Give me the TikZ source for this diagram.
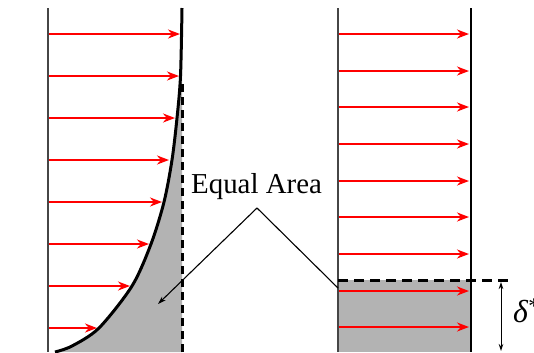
\documentclass[tikz,border=0pt]{standalone}
\usepackage{fontspec}
\setmainfont{Liberation Serif}
\usetikzlibrary{arrows.meta}
\definecolor{areagray}{RGB}{179,179,179}
\definecolor{wallgray}{RGB}{70,70,70}
\tikzset{
  thinwall/.style={draw=wallgray, line width=1.8bp},
  thickwall/.style={draw=black, line width=2.8bp},
  profile/.style={draw=black, line width=3bp},
  flow/.style={draw=red, line width=2.6bp, -{Stealth[length=12bp,width=9bp]}},
  vdash/.style={draw=black, line width=3bp, dash pattern=on 8bp off 5bp},
  hdash/.style={draw=black, line width=3bp, dash pattern=on 10bp off 6bp},
  callout/.style={draw=black, line width=1.1bp},
  dimline/.style={draw=black, line width=0.9bp, {Stealth[length=7bp,width=4.5bp]}-{Stealth[length=7bp,width=4.5bp]}},
}
\begin{document}
\begin{tikzpicture}[x=1bp,y=-1bp]
\useasboundingbox (0,0) rectangle (534,352);
% ---------- left panel ----------
\fill[areagray] plot[smooth] coordinates {(55,352) (72,346) (99,328) (132,286) (151,244) (164,202) (172,160) (177,118) (180.5,76) (182,8)} -- (182,352) -- cycle;
\foreach \y/\t in {34/180,76/179,118/175,160/169,202/162,244/149,286/130,328/97}{
  \coordinate (ls\y) at (48,\y);
  \coordinate (le\y) at (\t,\y);
  \draw[flow] (ls\y) -- (le\y);
}
\coordinate (lwt) at (48,8);
\coordinate (lwb) at (48,352);
\draw[thinwall] (lwt) -- (lwb);
\draw[profile] plot[smooth] coordinates {(55,352) (72,346) (99,328) (132,286) (151,244) (164,202) (172,160) (177,118) (180.5,76) (182,8)};
\coordinate (dvt) at (182,82);
\coordinate (dvb) at (182,352);
\draw[vdash] (dvb) -- (dvt);
% ---------- right panel ----------
\fill[areagray] (338,280) rectangle (471,352);
\foreach \y in {34,71,107,144,181,217,254,291,327}{
  \coordinate (rs\y) at (339,\y);
  \coordinate (re\y) at (469,\y);
  \draw[flow] (rs\y) -- (re\y);
}
\coordinate (rlt) at (338,8);
\coordinate (rlb) at (338,352);
\coordinate (rrt) at (471,8);
\coordinate (rrb) at (471,352);
\draw[thinwall] (rlt) -- (rlb);
\draw[thickwall] (rrt) -- (rrb);
\coordinate (hl) at (338,280);
\coordinate (hr) at (511,280);
\draw[hdash] (hl) -- (hr);
\coordinate (dt) at (501,282);
\coordinate (db) at (501,351);
\draw[dimline] (dt) -- (db);
\node[anchor=base west, inner sep=0, font=\rmfamily\fontsize{32}{34}\selectfont] (delta) at (513,322) {\textit{δ}\textsuperscript{*}};
% ---------- label & callouts ----------
\node[anchor=base west, inner sep=0, font=\rmfamily\fontsize{29}{31}\selectfont] (lbl) at (191,193) {Equal Area};
\coordinate (apex) at (257,208);
\coordinate (ltip) at (158,304);
\coordinate (rend) at (338,288);
\draw[callout, -{Stealth[length=8bp,width=5bp]}] (apex) -- (ltip);
\draw[callout] (apex) -- (rend);
\end{tikzpicture}
\end{document}
